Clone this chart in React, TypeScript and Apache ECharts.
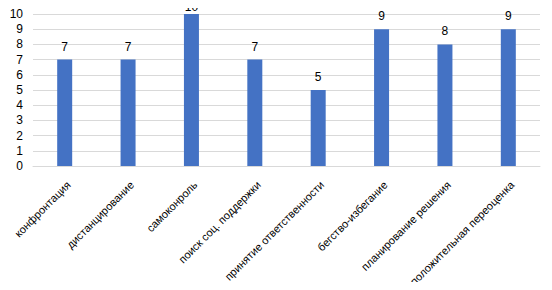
import React, { useEffect, useRef } from "react";
import * as echarts from "echarts";

const categories = [
  "конфронтация",
  "дистанцирование",
  "самоконроль",
  "поиск соц. поддержки",
  "принятие ответственности",
  "бегство-избегание",
  "планирование решения",
  "положительная переоценка",
];
const values = [7, 7, 10, 7, 5, 9, 8, 9];
const yMin = 0;
const yMax = 10;
const yStep = 1;

const FONT = "Liberation Sans, Arial, sans-serif";

export default function App() {
  const ref = useRef<HTMLDivElement>(null);
  useEffect(() => {
    if (!ref.current) return;
    const chart = echarts.init(ref.current, null, { renderer: "svg" });
    chart.setOption({
      animation: false,
      backgroundColor: "#ffffff",
      grid: { left: 33, right: 12, top: 14, bottom: 124, containLabel: false },
      graphic: [
        {
          type: "rect",
          shape: { x: 0.5, y: 0.5, width: 551, height: 289 },
          style: { fill: "none", stroke: "#d9d9d9", lineWidth: 1 },
          silent: true,
        },
      ],
      xAxis: {
        type: "category",
        data: categories,
        axisLine: { lineStyle: { color: "#d9d9d9" } },
        axisTick: { show: false },
        axisLabel: {
          rotate: 45,
          interval: 0,
          color: "#000000",
          fontFamily: FONT,
          fontSize: 11,
          margin: 13,
          verticalAlign: "top",
        },
      },
      yAxis: {
        type: "value",
        min: yMin,
        max: yMax,
        interval: yStep,
        axisLine: { show: false },
        axisTick: { show: false },
        splitLine: { lineStyle: { color: "#d9d9d9" } },
        axisLabel: {
          color: "#000000",
          fontFamily: FONT,
          fontSize: 12,
          margin: 10,
        },
      },
      series: [
        {
          type: "bar",
          data: values.map((v) =>
            v >= yMax ? { value: v, label: { distance: 1 } } : v
          ),
          barWidth: 15,
          itemStyle: { color: "#4472c4" },
          label: {
            show: true,
            position: "top",
            distance: 7,
            color: "#000000",
            fontFamily: FONT,
            fontSize: 12,
          },
        },
      ],
    });
    return () => chart.dispose();
  }, []);
  return <div ref={ref} style={{ width: 552, height: 290, margin: -8 }} />;
}
